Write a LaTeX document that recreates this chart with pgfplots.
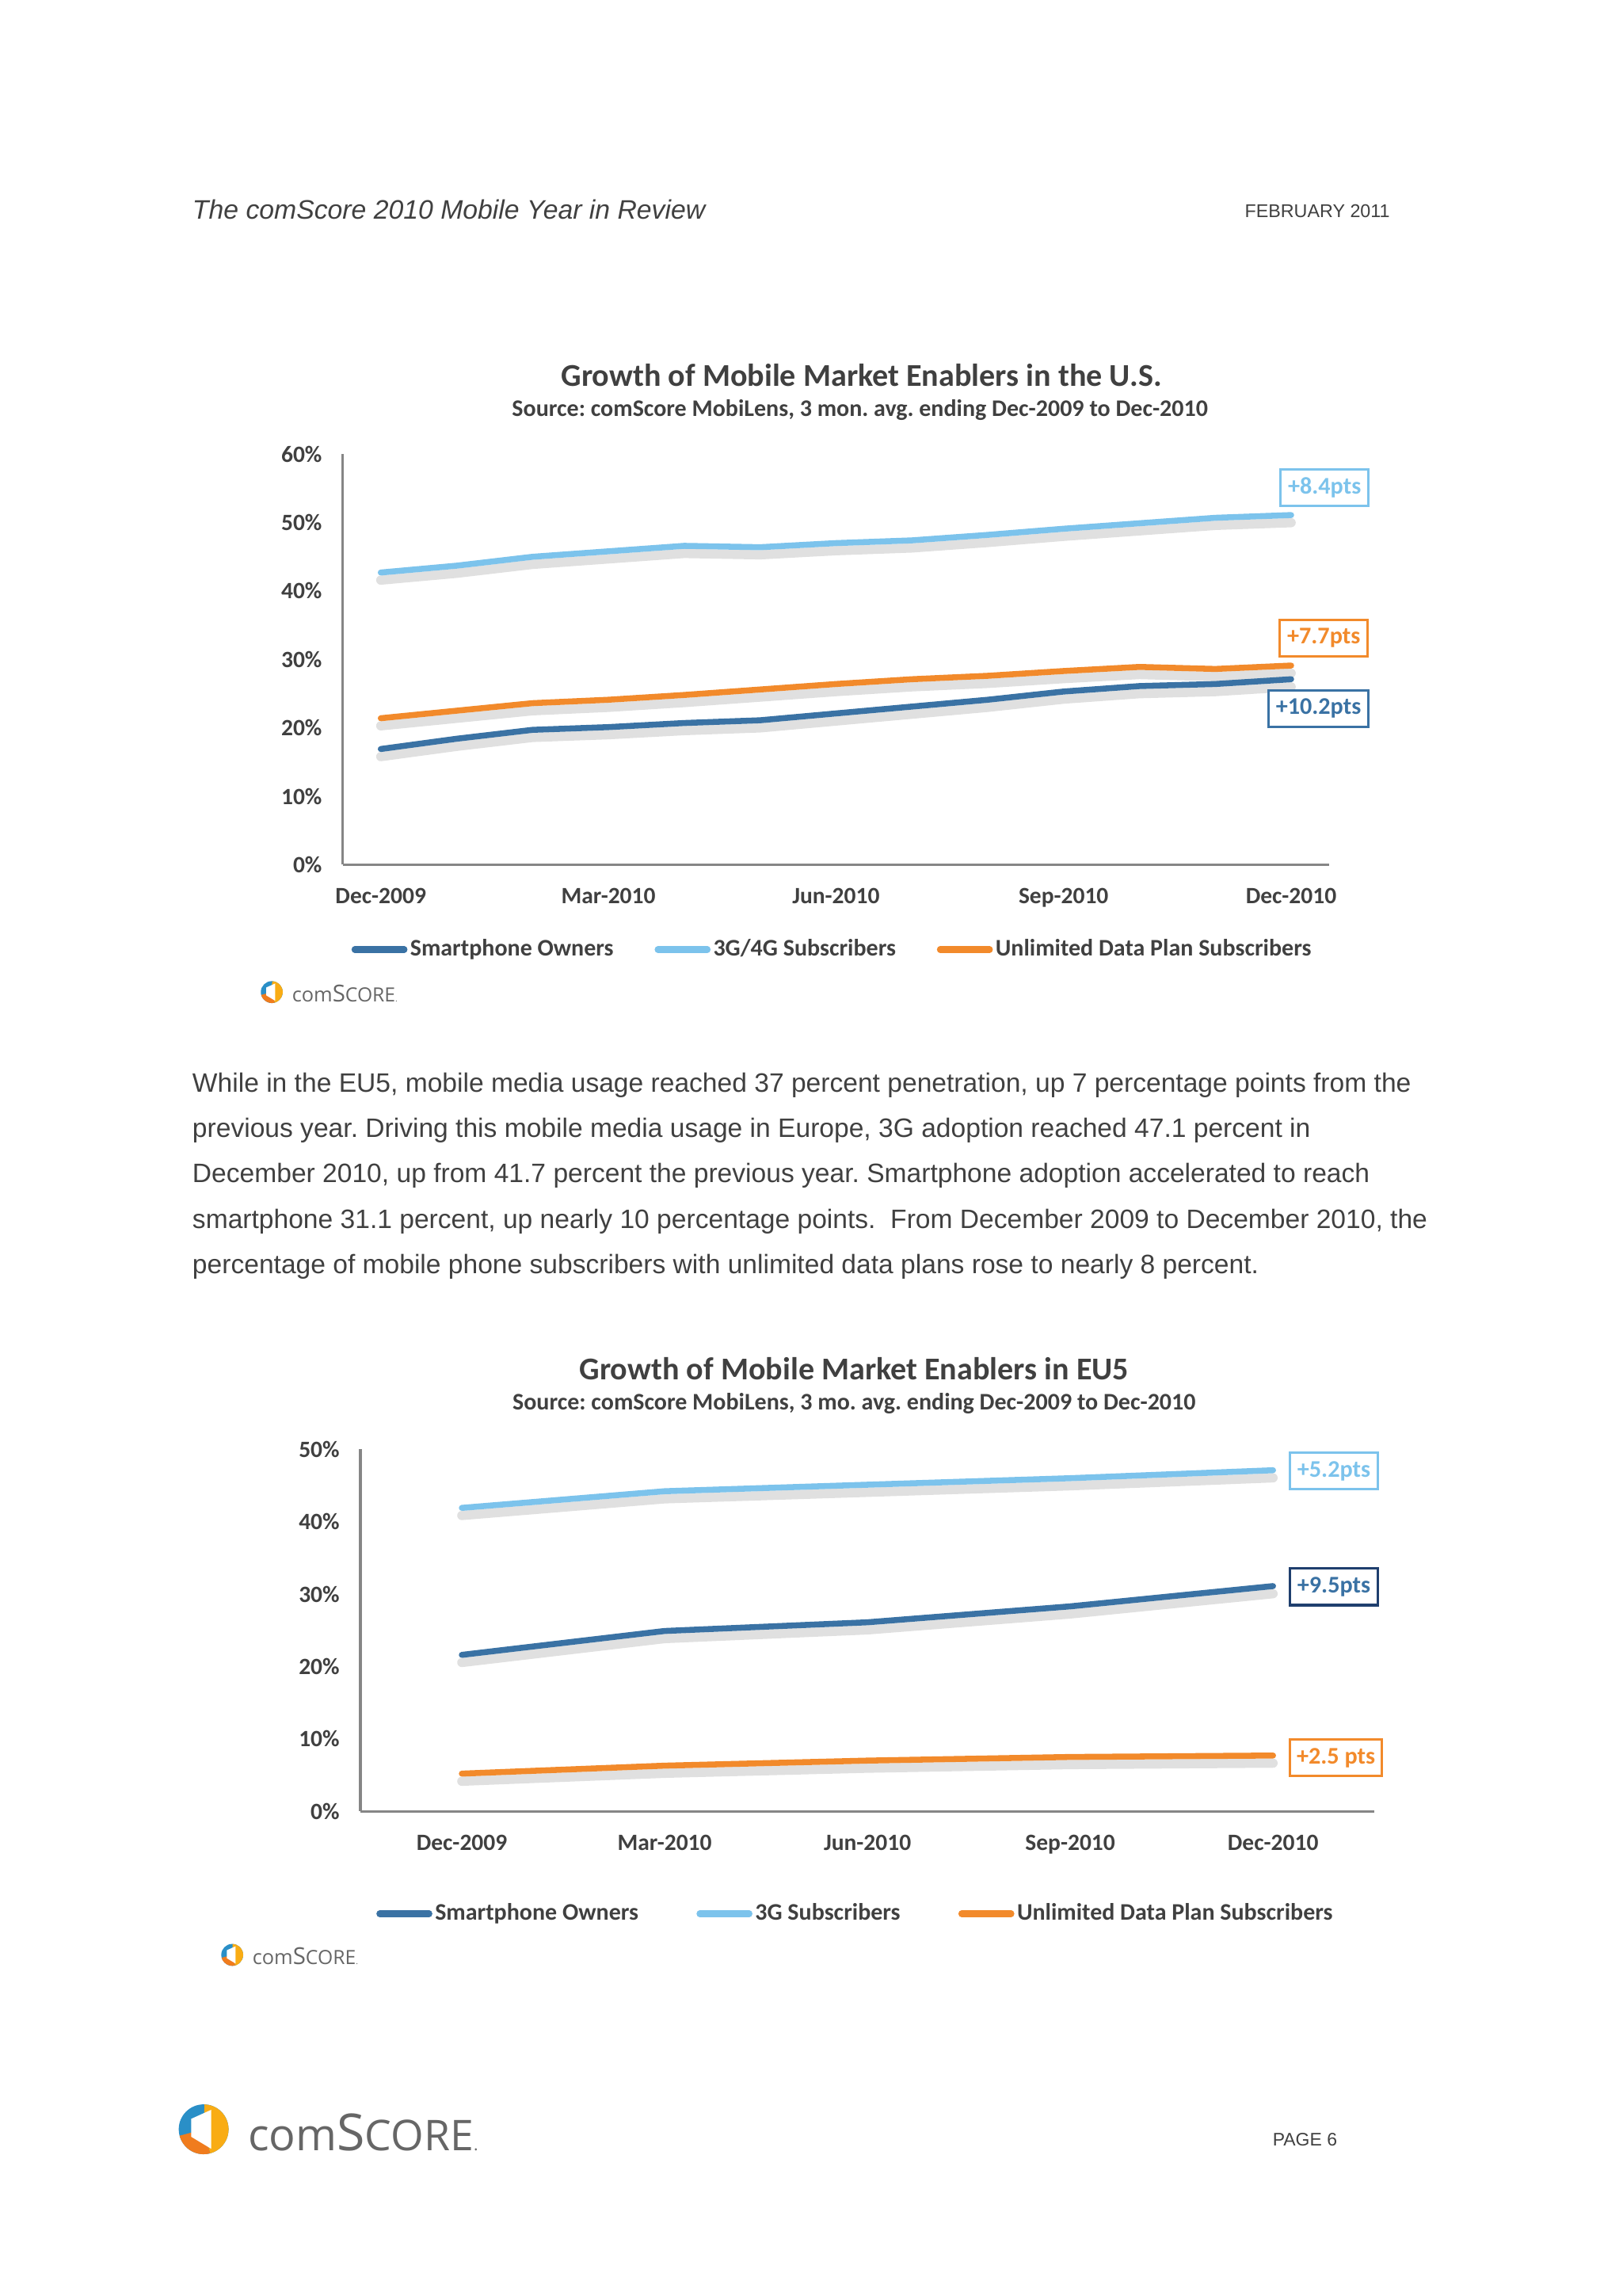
\documentclass[border=0pt]{standalone}
\usepackage{pgfplots}
\pgfplotsset{compat=1.18}
\usepackage{pgfplotstable}
\usepackage{fontspec}
\setmainfont{Liberation Sans}
\newfontfamily\calib{Carlito}
\newfontfamily\logofont{Open Sans}

\definecolor{smart}{HTML}{3A72A4}
\definecolor{threeg}{HTML}{7CC3EC}
\definecolor{unlim}{HTML}{F28A2B}
\definecolor{navy}{HTML}{1F3F6E}
\definecolor{txt}{HTML}{404040}
\definecolor{axisgray}{HTML}{868686}
\definecolor{csblue}{HTML}{2A8FC7}
\definecolor{csgold}{HTML}{F9AC14}
\definecolor{csorange}{HTML}{F07C1E}
\definecolor{logogray}{HTML}{666666}

% US, monthly Dec-2009 .. Dec-2010
\pgfplotstableread{
m  sp   gg   ul
0  16.9 42.7 21.4
1  18.4 43.7 22.5
2  19.7 45.0 23.6
3  20.1 45.8 24.1
4  20.7 46.6 24.8
5  21.1 46.4 25.6
6  22.1 47.0 26.4
7  23.1 47.4 27.1
8  24.1 48.2 27.6
9  25.3 49.1 28.3
10 26.1 49.9 28.9
11 26.4 50.7 28.6
12 27.1 51.1 29.1
}\us

% EU5, quarterly Dec-2009 .. Dec-2010
\pgfplotstableread{
q sp   gg   ul
0 21.6 41.9 5.2
1 24.9 44.2 6.3
2 26.1 45.1 7.0
3 28.3 46.0 7.5
4 31.1 47.1 7.7
}\eu

\def\u{0.01897}

\pgfplotsset{
  cs/.style={
    scale only axis, clip=false,
    axis x line=bottom, axis y line=left,
    axis line style={draw=axisgray, line width=0.9pt, -},
    major tick length=0pt, tick style={draw=none},
    ticklabel style={font=\calib\bfseries\fontsize{8.6}{10}\selectfont, text=txt},
    xticklabel style={inner sep=0pt, yshift=-8.5pt},
    yticklabel style={inner sep=0pt, xshift=-7.5pt},
    legend style={draw=none, fill=none, font=\calib\bfseries\fontsize{8.75}{10}\selectfont,
      text=txt, legend columns=3, anchor=west, nodes={inner sep=1pt}},
    legend image code/.code={\draw[##1, line width=2.4pt, line cap=round] (0cm,0cm) -- (0.64cm,0cm);},
  },
  ln/.style={line width=2.2pt, line cap=round, line join=round, #1},
  shadow/.style={black, opacity=0.12, line width=3.4pt, line cap=round, line join=round, yshift=-2.8pt, forget plot},
}

\tikzset{
  box/.style={draw=#1, text=#1, line width=0.9pt, font=\calib\bfseries\fontsize{8.8}{10}\selectfont,
    minimum height=0.474cm, inner sep=1pt, fill=white},
  cslogo/.pic={
    \begin{scope}[x=1cm, y=1cm]
      \fill[csblue] (0,0) circle (1);
      \fill[csgold] (0,0) -- (-75:1) arc (-75:88:1) -- cycle;
      \fill[csorange] (0,0) -- (195:1) arc (195:285:1) -- cycle;
      \fill[white] (-0.5,0.42) -- (0.3,0.78) -- (0.3,-0.78) -- (-0.5,-0.3) -- cycle;
    \end{scope}
  },
}

\begin{document}
\frenchspacing
\begin{tikzpicture}
\fill[white] (0,0) rectangle (21cm,-29.716cm);

\begin{scope}[x=\u cm, y=-\u cm, every node/.style={text=txt}]
  \node[anchor=west, inner sep=0pt, font=\itshape\fontsize{9.85}{11}\selectfont] at (131,143) {The comScore 2010 Mobile Year in Review};
  \node[anchor=east, inner sep=0pt, font=\fontsize{6.8}{8}\selectfont] at (949,144) {FEBRUARY 2011};

  \node[font=\calib\bfseries\fontsize{11.7}{14}\selectfont] at (588,256) {Growth of Mobile Market Enablers in the U.S.};
  \node[font=\calib\bfseries\fontsize{8.75}{10}\selectfont] at (587,280) {Source: comScore MobiLens, 3 mon. avg. ending Dec-2009 to Dec-2010};

  \node[font=\calib\bfseries\fontsize{11.7}{14}\selectfont] at (583,934) {Growth of Mobile Market Enablers in EU5};
  \node[font=\calib\bfseries\fontsize{8.75}{10}\selectfont] at (583,958) {Source: comScore MobiLens, 3 mo. avg. ending Dec-2009 to Dec-2010};

  \begin{scope}[every node/.append style={anchor=base west, inner sep=0pt, font=\fontsize{9.8}{12}\selectfont}]
    \node at (131,745) {While in the EU5, mobile media usage reached 37 percent penetration, up 7 percentage points from the};
    \node at (131,776) {previous year. Driving this mobile media usage in Europe, 3G adoption reached 47.1 percent in};
    \node at (131,807) {December 2010, up from 41.7 percent the previous year. Smartphone adoption accelerated to reach};
    \node at (131,838) {smartphone 31.1 percent, up nearly 10 percentage points.\ \ From December 2009 to December 2010, the};
    \node at (131,869) {percentage of mobile phone subscribers with unlimited data plans rose to nearly 8 percent.};
  \end{scope}

  \pic[scale=0.142] at (185.5,677) {cslogo};
  \node[anchor=west, inner sep=0pt, text=logogray] at (199,678)
    {\logofont\fontsize{7.4}{8}\selectfont com{\fontsize{8.6}{9}\selectfont S}{\fontsize{7.2}{8}\selectfont CORE}{\fontsize{3}{3}\selectfont .}};
  \pic[scale=0.142] at (158.5,1334) {cslogo};
  \node[anchor=west, inner sep=0pt, text=logogray] at (172,1335)
    {\logofont\fontsize{7.4}{8}\selectfont com{\fontsize{8.6}{9}\selectfont S}{\fontsize{7.2}{8}\selectfont CORE}{\fontsize{3}{3}\selectfont .}};

  \pic[scale=0.3225] at (139,1453) {cslogo};
  \node[anchor=west, inner sep=0pt, text=logogray] at (169,1455)
    {\logofont\fontsize{16.3}{18}\selectfont com{\fontsize{18.8}{20}\selectfont S}{\fontsize{15.6}{17}\selectfont CORE}{\fontsize{6}{6}\selectfont .}};
  \node[anchor=east, inner sep=0pt, font=\fontsize{6.7}{8}\selectfont] at (913,1460) {PAGE 6};
\end{scope}

% ---- U.S. chart
\begin{axis}[cs,
  at={({234*\u cm},{-590*\u cm})}, anchor=south west,
  width=12.767cm, height=5.312cm,
  xmin=-0.5, xmax=12.5, ymin=0, ymax=60,
  xtick={0,3,6,9,12},
  xticklabels={Dec-2009,Mar-2010,Jun-2010,Sep-2010,Dec-2010},
  ytick={0,10,20,30,40,50,60},
  yticklabels={0\%,10\%,20\%,30\%,40\%,50\%,60\%},
  legend style={at={(0.0,-0.207)}, /tikz/every even column/.append style={column sep=0.496cm}},
]
\addplot[shadow] table[x=m, y=gg] {\us};
\addplot[shadow] table[x=m, y=ul] {\us};
\addplot[shadow] table[x=m, y=sp] {\us};
\addplot[ln=smart] table[x=m, y=sp] {\us};
\addlegendentry{Smartphone Owners}
\addplot[ln=threeg] table[x=m, y=gg] {\us};
\addlegendentry{3G/4G Subscribers}
\addplot[ln=unlim] table[x=m, y=ul] {\us};
\addlegendentry{Unlimited Data Plan Subscribers}
\node[box=threeg, minimum width=1.138cm] at (axis cs:12.44,55.1) {+8.4pts};
\node[box=unlim, minimum width=1.138cm] at (axis cs:12.43,33.1) {+7.7pts};
\node[box=smart, minimum width=1.29cm] at (axis cs:12.36,22.8) {+10.2pts};
\end{axis}

% ---- EU5 chart
\begin{axis}[cs,
  at={({246*\u cm},{-1236*\u cm})}, anchor=south west,
  width=13.127cm, height=4.686cm,
  xmin=-0.5, xmax=4.5, ymin=0, ymax=50,
  xtick={0,1,2,3,4},
  xticklabels={Dec-2009,Mar-2010,Jun-2010,Sep-2010,Dec-2010},
  ytick={0,10,20,30,40,50},
  yticklabels={0\%,10\%,20\%,30\%,40\%,50\%},
  legend style={at={(0.0072,-0.283)}, /tikz/every even column/.append style={column sep=0.716cm}},
]
\addplot[shadow] table[x=q, y=gg] {\eu};
\addplot[shadow] table[x=q, y=sp] {\eu};
\addplot[shadow] table[x=q, y=ul] {\eu};
\addplot[ln=smart] table[x=q, y=sp] {\eu};
\addlegendentry{Smartphone Owners}
\addplot[ln=threeg] table[x=q, y=gg] {\eu};
\addlegendentry{3G Subscribers}
\addplot[ln=unlim] table[x=q, y=ul] {\eu};
\addlegendentry{Unlimited Data Plan Subscribers}
\node[box=threeg, minimum width=1.138cm] at (axis cs:4.30,47.0) {+5.2pts};
\node[draw=navy, text=smart, line width=0.9pt, font=\calib\bfseries\fontsize{8.8}{10}\selectfont,
  minimum height=0.474cm, minimum width=1.138cm, inner sep=1pt, fill=white] at (axis cs:4.30,31.0) {+9.5pts};
\node[box=unlim, minimum width=1.195cm] at (axis cs:4.31,7.4) {+2.5 pts};
\end{axis}
\end{tikzpicture}
\end{document}
